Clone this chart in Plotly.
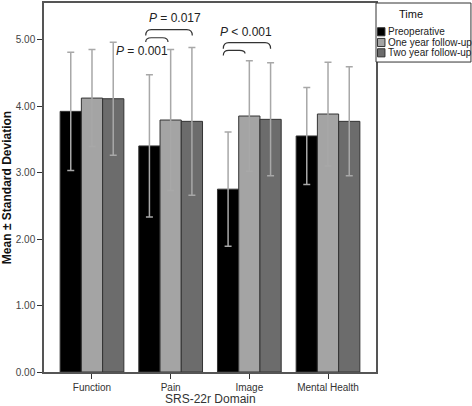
import plotly.graph_objects as go

categories = ["Function", "Pain", "Image", "Mental Health"]
series_names = ["Preoperative", "One year follow-up", "Two year follow-up"]
preop_mean = [3.92, 3.40, 2.75, 3.55]
preop_sd = [0.89, 1.07, 0.86, 0.73]
oneyr_mean = [4.12, 3.79, 3.85, 3.88]
oneyr_sd = [0.73, 1.06, 0.83, 0.78]
twoyr_mean = [4.11, 3.77, 3.80, 3.77]
twoyr_sd = [0.85, 1.11, 0.85, 0.82]
y_ticks = [0, 1, 2, 3, 4, 5]
y_tick_labels = ["0.00", "1.00", "2.00", "3.00", "4.00", "5.00"]

colors = ["#000000", "#a4a4a4", "#6c6c6c"]
means = [preop_mean, oneyr_mean, twoyr_mean]
sds = [preop_sd, oneyr_sd, twoyr_sd]
xs = list(range(len(categories)))

FONT = "Arial, Liberation Sans, sans-serif"

fig = go.Figure()
for name, m, s, c in zip(series_names, means, sds, colors):
    fig.add_trace(go.Bar(
        x=xs, y=m, name=name, showlegend=False,
        marker=dict(color=c, line=dict(color="#333333", width=1)),
        error_y=dict(type="data", array=s, visible=True, color="#a8a8a8",
                     thickness=1.5, width=3.5),
    ))

# significance brackets: (x_left, x_right, y_top, y_bottom_left, y_bottom_right)
brackets = [
    (0.683, 1.275, 5.150, 5.060, 5.060),
    (0.683, 0.966, 5.027, 4.962, 4.962),
    (1.669, 2.270, 4.953, 4.863, 4.863),
    (1.669, 1.945, 4.837, 4.762, 4.790),
]
shapes = []
for x0, x1, yt, yb0, yb1 in brackets:
    d = 0.07
    path = (f"M {x0},{yb0} Q {x0},{yt} {x0+d},{yt} L {x1-d},{yt} "
            f"Q {x1},{yt} {x1},{yb1}")
    shapes.append(dict(type="path", path=path, xref="x", yref="y",
                       line=dict(color="#333333", width=1.2)))

annots = [
    dict(x=1.055, y=5.33, text="<i>P</i> = 0.017"),
    dict(x=0.64, y=4.83, text="<i>P</i> = 0.001"),
    dict(x=1.96, y=5.11, text="<i>P</i> < 0.001"),
]
annotations = [dict(a, xref="x", yref="y", showarrow=False, yanchor="middle",
                    font=dict(family=FONT, size=12, color="#222222"))
               for a in annots]

# manual legend (paper coordinates)
shapes.append(dict(type="rect", xref="paper", yref="paper", x0=1.0, x1=1.286,
                   y0=0.840, y1=1.0, line=dict(color="#333333", width=1),
                   fillcolor="white"))
annotations.append(dict(x=1.148, y=0.970, xref="paper", yref="paper",
                        text="Time", showarrow=False, yanchor="middle",
                        font=dict(family=FONT, size=11, color="#111111")))
item_y = [0.922, 0.893, 0.865]
for name, c, yy in zip(series_names, colors, item_y):
    shapes.append(dict(type="rect", xref="paper", yref="paper",
                       x0=1.0045, x1=1.027, y0=yy - 0.011, y1=yy + 0.011,
                       fillcolor=c, line=dict(color="#333333", width=1)))
    annotations.append(dict(x=1.031, y=yy, xref="paper", yref="paper",
                            text=name, showarrow=False, xanchor="left",
                            yanchor="middle",
                            font=dict(family=FONT, size=10, color="#222222")))

# x-axis title as paper annotation
annotations.append(dict(x=0.5, y=-0.073, xref="paper", yref="paper",
                        text="SRS-22r Domain", showarrow=False,
                        yanchor="middle",
                        font=dict(family=FONT, size=12, color="#333333")))

fig.update_layout(
    width=472, height=406,
    margin=dict(l=44, r=96, t=3, b=34),
    paper_bgcolor="white", plot_bgcolor="white",
    barmode="group", bargap=0.19, bargroupgap=0,
    font=dict(family=FONT, size=10, color="#333333"),
    shapes=shapes, annotations=annotations,
    xaxis=dict(range=[-0.61, 3.61], tickvals=xs, ticktext=categories,
               showline=True, linecolor="#555555", linewidth=1.5, mirror=True,
               ticks="outside", ticklen=5, tickcolor="#333333",
               showgrid=False, zeroline=False, automargin=False,
               tickfont=dict(size=10, color="#333333")),
    yaxis=dict(range=[0, 5.55], tickvals=y_ticks, ticktext=y_tick_labels,
               showline=True, linecolor="#555555", linewidth=1.5, mirror=True,
               ticks="outside", ticklen=5, tickcolor="#333333",
               showgrid=False, zeroline=False, automargin=False,
               tickfont=dict(size=10, color="#444444"),
               title=dict(text="<b>Mean ± Standard Deviation</b>", standoff=6,
                          font=dict(size=12, color="#111111"))),
)

fig.write_html("out.html", config={"displayModeBar": False},
               post_script="document.body.style.margin='0';document.body.style.overflow='hidden';")
